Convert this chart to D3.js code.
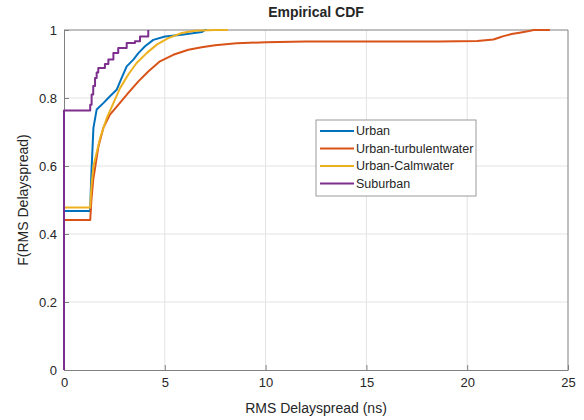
<!DOCTYPE html>
<html>
<head>
<meta charset="utf-8">
<script src="https://cdn.jsdelivr.net/npm/d3@7"></script>
<style>
body { margin: 0; background: #fff; }
text { font-family: "Liberation Sans", Arial, sans-serif; fill: #262626; }
</style>
</head>
<body>
<div id="chart"></div>
<script>
var WIDTH = 584;
var HEIGHT = 420;

var seriesNames = ['Urban', 'Urban-turbulentwater', 'Urban-Calmwater', 'Suburban'];
var seriesColors = ['#0072BD', '#D95319', '#EDB120', '#7E2F8E'];

var xTicks = [0, 5, 10, 15, 20, 25];
var yTicks = [0, 0.2, 0.4, 0.6, 0.8, 1];

// [x (ns), F]
var urban = [[0,0],[0,0.468],[1.30,0.468],[1.33,0.53],[1.37,0.594],[1.46,0.712],[1.62,0.766],
	[1.95,0.785],[2.28,0.805],[2.61,0.824],[2.86,0.859],[3.11,0.893],[3.44,0.913],[3.69,0.932],
	[4.02,0.952],[4.43,0.971],[5.01,0.981],[5.84,0.986],[6.83,0.994],[7.0,1.0],[7.08,1.0]];

var turbulent = [[0,0],[0,0.441],[1.30,0.441],[1.36,0.50],[1.45,0.56],[1.54,0.594],[1.7,0.655],
	[1.95,0.712],[2.28,0.751],[2.69,0.78],[3.19,0.815],[3.69,0.849],[4.18,0.878],[4.76,0.908],
	[5.42,0.927],[6.17,0.942],[6.83,0.949],[7.49,0.955],[8.56,0.961],[10,0.964],[12,0.966],
	[18.6,0.966],[20.5,0.968],[21.3,0.972],[21.6,0.978],[21.8,0.982],[22.2,0.988],[22.6,0.992],
	[23.0,0.996],[23.3,1.0],[24.1,1.0]];

var calmwater = [[0,0],[0,0.478],[1.30,0.478],[1.36,0.54],[1.46,0.599],[1.79,0.682],[2.12,0.741],
	[2.45,0.785],[2.78,0.829],[3.19,0.869],[3.6,0.903],[4.1,0.932],[4.6,0.957],[5.17,0.976],
	[5.84,0.991],[6.5,0.998],[7.5,1.0],[8.13,1.0]];

var suburban = [[0,0],[0,0.763],[1.30,0.78],[1.37,0.81],[1.45,0.835],[1.54,0.859],[1.62,0.875],
	[1.70,0.888],[2.03,0.9],[2.2,0.913],[2.45,0.932],[2.69,0.947],[3.11,0.962],[3.52,0.967],
	[3.77,0.981],[4.18,1.0]];

var seriesData = [urban, turbulent, calmwater, suburban];
var seriesCurves = [d3.curveLinear, d3.curveLinear, d3.curveLinear, d3.curveStepAfter];

var margin = {left: 64, right: 16, top: 30, bottom: 50};

var svg = d3.select('#chart').append('svg')
	.attr('width', WIDTH)
	.attr('height', HEIGHT);

var x = d3.scaleLinear().domain([0, 25]).range([margin.left, WIDTH - margin.right]);
var y = d3.scaleLinear().domain([0, 1]).range([HEIGHT - margin.bottom, margin.top]);

// grid
svg.append('g').selectAll('line')
	.data(xTicks.slice(1, -1)).enter().append('line')
	.attr('x1', function(d) { return x(d); }).attr('x2', function(d) { return x(d); })
	.attr('y1', y(0)).attr('y2', y(1))
	.attr('stroke', '#e3e3e3').attr('stroke-width', 1);
svg.append('g').selectAll('line')
	.data(yTicks.slice(1, -1)).enter().append('line')
	.attr('y1', function(d) { return y(d); }).attr('y2', function(d) { return y(d); })
	.attr('x1', x(0)).attr('x2', x(25))
	.attr('stroke', '#e3e3e3').attr('stroke-width', 1);

// axes, ticks pointing in
var xAxis = svg.append('g')
	.attr('transform', 'translate(0,' + y(0) + ')')
	.call(d3.axisBottom(x).tickValues(xTicks).tickSizeInner(-5).tickSizeOuter(0).tickPadding(8));
var yAxis = svg.append('g')
	.attr('transform', 'translate(' + x(0) + ',0)')
	.call(d3.axisLeft(y).tickValues(yTicks).tickSizeInner(-5).tickSizeOuter(0).tickPadding(7)
		.tickFormat(function(d) { return String(+d.toFixed(1)); }));

[xAxis, yAxis].forEach(function(a) {
	a.selectAll('path').attr('stroke', '#808080');
	a.selectAll('line').attr('stroke', '#808080');
	a.selectAll('text').attr('font-size', 13).attr('fill', '#262626')
		.attr('font-family', '"Liberation Sans", Arial, sans-serif');
});

svg.append('path')
	.attr('d', 'M' + x(0) + ',' + y(1) + 'H' + x(25) + 'V' + y(0))
	.attr('fill', 'none').attr('stroke', '#808080');

// curves
svg.append('g').selectAll('path')
	.data(seriesData).enter().append('path')
	.attr('d', function(d, i) {
		return d3.line()
			.x(function(p) { return x(p[0]); })
			.y(function(p) { return y(p[1]); })
			.curve(seriesCurves[i])(d);
	})
	.attr('fill', 'none')
	.attr('stroke', function(d, i) { return seriesColors[i]; })
	.attr('stroke-width', 2)
	.attr('stroke-linejoin', 'round');

// labels
svg.append('text')
	.attr('x', (x(0) + x(25)) / 2).attr('y', 17)
	.attr('text-anchor', 'middle').attr('font-weight', 'bold').attr('font-size', 14)
	.text('Empirical CDF');
svg.append('text')
	.attr('x', (x(0) + x(25)) / 2).attr('y', 413)
	.attr('text-anchor', 'middle').attr('font-size', 14)
	.text('RMS Delayspread (ns)');
svg.append('text')
	.attr('transform', 'translate(28,' + ((y(0) + y(1)) / 2) + ') rotate(-90)')
	.attr('text-anchor', 'middle').attr('font-size', 14)
	.text('F(RMS Delayspread)');

// legend
var lg = svg.append('g').attr('transform', 'translate(316,120)');
lg.append('rect')
	.attr('width', 160).attr('height', 76)
	.attr('fill', '#fff').attr('stroke', '#9a9a9a');
var items = lg.selectAll('g').data(seriesNames).enter().append('g')
	.attr('transform', function(d, i) { return 'translate(0,' + (11 + i * 17.5) + ')'; });
items.append('line')
	.attr('x1', 4).attr('x2', 38)
	.attr('stroke', function(d, i) { return seriesColors[i]; })
	.attr('stroke-width', 2);
items.append('text')
	.attr('x', 40).attr('dy', '0.35em').attr('font-size', 12.5)
	.text(function(d) { return d; });
</script>
</body>
</html>
